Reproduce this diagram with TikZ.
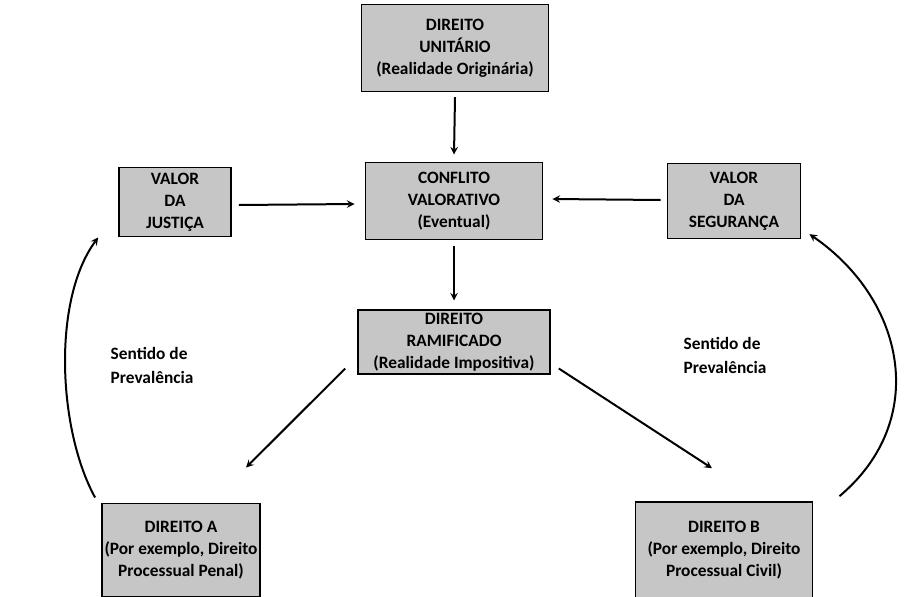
\documentclass[tikz,border=0pt]{standalone}
\usepackage{fontspec}
\setmainfont{Carlito}
\usetikzlibrary{positioning, arrows, calc}
\tikzset{
    x=0.75pt, y=-0.75pt, % pixel units, y going down
    caixa/.style={ % the grey boxes
        draw,
        line width=1.2pt,
        fill=gray!45,
        align=center,
        inner sep=2pt,
        font=\fontsize{13}{16.5}\selectfont\bfseries
    },
    seta/.style={ % the arrows
        draw,
        ->,>=stealth,
        line width=1.5pt
    },
    rotulo/.style={
        align=left,
        font=\fontsize{13}{18}\selectfont\bfseries
    }
}

\begin{document}
\begin{tikzpicture}
            \useasboundingbox (0,0) rectangle (905,596);
            \node[caixa, minimum width=140pt, minimum height=65pt]   (unitario)   at (455,48)
                {DIREITO\\UNITÁRIO\\(Realidade Originária)};
            \node[caixa, minimum width=133pt, minimum height=58pt]   (conflito)   at (454,201)
                {CONFLITO\\VALORATIVO\\(Eventual)};
            \node[caixa, minimum width=84pt, minimum height=52pt]    (justica)    at (175,202)
                {VALOR\\DA\\JUSTIÇA};
            \node[caixa, minimum width=100pt, minimum height=56pt]   (seguranca)  at (734,201)
                {VALOR\\DA\\SEGURANÇA};
            \node[caixa, minimum width=144pt, minimum height=47pt]   (ramificado) at (454,342)
                {DIREITO\\RAMIFICADO\\(Realidade Impositiva)};
            \node[caixa, minimum width=109pt, minimum height=70pt]   (dirA)       at (181,550)
                {DIREITO A\\(Por exemplo, Direito\\Processual Penal)};
            \node[caixa, minimum width=133pt, minimum height=72pt]   (dirB)       at (724,550)
                {DIREITO B\\(Por exemplo, Direito\\Processual Civil)};
            \node[rotulo, anchor=north west] (sentA) at (106,343) {Sentido de\\Prevalência};
            \node[rotulo, anchor=north west] (sentB) at (679,333) {Sentido de\\Prevalência};

            \draw[seta] ($(unitario.south)+(0,5)$) -- ($(conflito.north)+(0,-7)$);
            \draw[seta] ($(justica.east)+(7,3)$) -- ($(conflito.west)+(-10,3)$);
            \draw[seta] ($(seguranca.west)+(-6,-1)$) -- ($(conflito.east)+(9,-2)$);
            \draw[seta] ($(conflito.south)+(0,6)$) -- ($(ramificado.north)+(0,-9)$);
            \draw[seta] ($(ramificado.south west)+(-12,-6)$) -- ($(dirA.north)+(65,-35)$);
            \draw[seta] ($(ramificado.south east)+(8,-6)$) -- ($(dirB.north)+(-12,-33)$);
            \draw[seta] ($(dirA.north west)+(-6,-5)$) .. controls (58,430) and (52,300) .. ($(justica.south west)+(-20,0)$);
            \draw[seta] ($(dirB.north east)+(26,-5)$) .. controls (930,420) and (905,300) .. ($(seguranca.south east)+(8,-5)$);
        \end{tikzpicture}
\end{document}
